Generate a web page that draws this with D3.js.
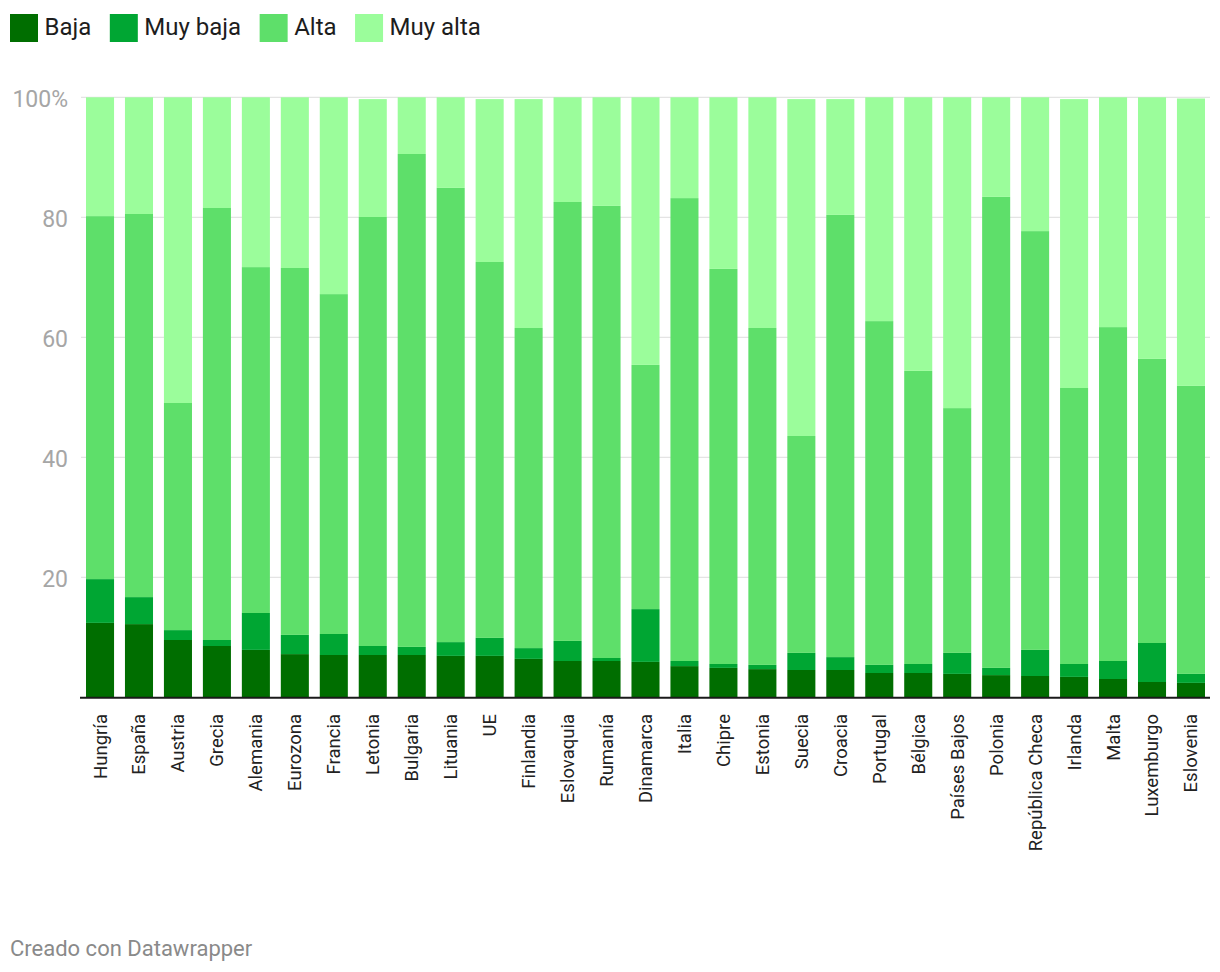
<!DOCTYPE html>
<html>
<head>
<meta charset="utf-8">
<script src="https://cdn.jsdelivr.net/npm/d3@7"></script>
<style>
  html, body { margin: 0; padding: 0; background: #fff; }
  svg { display: block; font-family: Roboto, "Noto Sans", sans-serif; }
</style>
</head>
<body>
<svg id="chart" width="1220" height="972"></svg>
<script>
const countries = ["Hungría","España","Austria","Grecia","Alemania","Eurozona","Francia","Letonia","Bulgaria","Lituania","UE","Finlandia","Eslovaquia","Rumanía","Dinamarca","Italia","Chipre","Estonia","Suecia","Croacia","Portugal","Bélgica","Países Bajos","Polonia","República Checa","Irlanda","Malta","Luxemburgo","Eslovenia"];
const baja    = [12.4,12.2,9.55,8.55,7.9,7.2,7.05,7.05,7.05,6.9,6.9,6.4,6.05,6.05,5.9,5.2,4.9,4.7,4.55,4.55,4.05,4.05,3.9,3.7,3.55,3.4,3.05,2.55,2.4];
const muyBaja = [7.3,4.5,1.65,1.0,6.15,3.2,3.5,1.5,1.35,2.3,3.0,1.8,3.35,0.5,8.8,0.85,0.65,0.7,2.85,2.15,1.35,1.5,3.5,1.2,4.35,2.15,3.0,6.5,1.5];
const alta    = [60.5,63.85,37.85,72.0,57.65,61.15,56.65,71.5,82.15,75.7,62.65,53.35,73.15,75.35,40.7,77.15,65.85,56.15,36.15,73.7,57.3,48.85,40.8,78.5,69.8,46.0,55.65,47.35,48.0];
const muyAlta = [19.8,19.45,50.95,18.45,28.3,28.45,32.8,19.65,9.45,15.1,27.15,38.15,17.45,18.1,44.6,16.8,28.6,38.45,56.15,19.3,37.3,45.6,51.8,16.6,22.3,48.15,38.3,43.6,47.9];
const seriesNames = ["Baja","Muy baja","Alta","Muy alta"];
const seriesColors = ["#006e00","#00a633","#5edf6a","#9bfd9b"];
const yTicks = [20,40,60,80,100];

const rows = countries.map((c,i) => ({country:c, "Baja":baja[i], "Muy baja":muyBaja[i], "Alta":alta[i], "Muy alta":muyAlta[i]}));
const stacked = d3.stack().keys(seriesNames)(rows);

const svg = d3.select("#chart");
const x = d3.scaleBand().domain(countries).range([86, 1205]).paddingInner(0.28).paddingOuter(0);
const y = d3.scaleLinear().domain([0,100]).range([697.3, 97.3]);
const color = d3.scaleOrdinal().domain(seriesNames).range(seriesColors);

// gridlines
svg.append("g").selectAll("line").data(yTicks).join("line")
  .attr("x1", 81).attr("x2", 1210)
  .attr("y1", d => y(d)).attr("y2", d => y(d))
  .attr("stroke", "#e4e4e4").attr("stroke-width", 1.2);

// y labels
svg.append("g").selectAll("text").data(yTicks).join("text")
  .attr("x", 68).attr("y", d => y(d) + 9.2)
  .attr("text-anchor", "end")
  .attr("font-size", 23).attr("fill", "#a6a6a6")
  .text(d => d === 100 ? "100%" : d);

// bars
svg.append("g").selectAll("g").data(stacked).join("g")
  .attr("fill", d => color(d.key))
  .selectAll("rect").data(d => d).join("rect")
  .attr("x", d => x(d.data.country))
  .attr("width", x.bandwidth())
  .attr("y", d => y(d[1]))
  .attr("height", d => y(d[0]) - y(d[1]));

// baseline
svg.append("line").attr("x1", 80).attr("x2", 1210).attr("y1", y(0)+0.5).attr("y2", y(0)+0.5)
  .attr("stroke", "#1a1a1a").attr("stroke-width", 2);

// x labels
svg.append("g").selectAll("text").data(countries).join("text")
  .attr("transform", d => `translate(${x(d) + x.bandwidth()/2},714) rotate(-90)`)
  .attr("dy", "0.35em")
  .attr("text-anchor", "end")
  .attr("font-size", 18.5).attr("fill", "#222")
  .text(d => d);

// legend
const legend = svg.append("g");
let lx = 10;
seriesNames.forEach((name) => {
  legend.append("rect").attr("x", lx).attr("y", 14).attr("width", 28).attr("height", 28).attr("fill", color(name));
  const t = legend.append("text").attr("x", lx + 34.5).attr("y", 34.5)
    .attr("font-size", 24).attr("fill", "#1d1d1d").text(name);
  lx = lx + 34.5 + t.node().getComputedTextLength() + 18.5;
});

// footer
svg.append("text").attr("x", 10).attr("y", 956).attr("font-size", 22).attr("fill", "#8a8a8a").text("Creado con Datawrapper");
</script>
</body>
</html>
